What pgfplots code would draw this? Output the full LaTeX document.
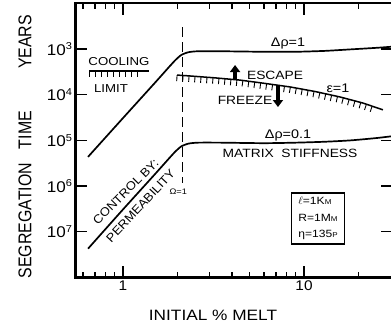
\documentclass[border=0pt]{standalone}
\usepackage{fontspec}
\setmainfont{Liberation Sans}[FakeStretch=1.15]
\newfontfamily\vfont{Liberation Sans}[FakeStretch=0.86]
\newfontfamily\rfont{Liberation Sans}[FakeStretch=1.08]
\newfontfamily\tfont{Liberation Sans}[FakeStretch=1.1]
\usepackage{pgfplots}
\pgfplotsset{compat=1.18}
\usetikzlibrary{arrows.meta,decorations.pathreplacing}
\newcommand\tp[1]{10\raisebox{5.5pt}{\fontsize{10}{10}\selectfont #1}}
\newcommand\fs[1]{\fontsize{#1}{#1}\selectfont}
\begin{document}
\begin{tikzpicture}
\begin{axis}[
  at={(75.5pt,55.5pt)}, anchor=south west,
  scale only axis, width=317.5pt, height=274.2pt,
  xmode=log, ymode=log, y dir=reverse,
  xmin=0.5464, xmax=31.02, ymin=1e2, ymax=1e8,
  axis line style={line width=2.2pt},
  xtick={1,10}, xticklabels={1,10},
  minor xtick={0.6,0.7,0.8,0.9,2,3,4,5,6,7,8,9,20},
  ytick={1e3,1e4,1e5,1e6,1e7},
  yticklabels={\tp{3},\tp{4},\tp{5},\tp{6},\tp{7}},
  yminorticks=false,
  tick align=inside,
  major tick length=12pt, minor tick length=6pt,
  every tick/.style={black, line width=1.3pt},
  x tick label style={font=\tfont\fs{14}},
  y tick label style={font=\tfont\fs{15.5}},
  clip=false,
]
% Delta rho = 1
\addplot[line width=1.7pt, smooth, tension=0.4] coordinates {
(0.641,2.29e5) (1.0,3.24e4) (1.5,5.50e3) (1.8,2.45e3) (1.95,1.74e3) (2.1,1.35e3)
(2.3,1.175e3) (2.6,1.12e3) (3.5,1.12e3) (6,1.15e3) (9,1.15e3) (13,1.10e3)
(18,1.02e3) (25,944) (30.6,891)};
% Delta rho = 0.1
\addplot[line width=1.7pt, smooth, tension=0.4] coordinates {
(0.641,2.34e7) (1.0,3.24e6) (1.5,5.50e5) (1.8,2.45e5) (1.95,1.74e5) (2.1,1.35e5)
(2.3,1.175e5) (2.6,1.12e5) (3.5,1.12e5) (6,1.15e5) (9,1.12e5) (13,1.07e5)
(18,1.0e5) (25,8.9e4) (30.6,8.1e4)};
% epsilon = 1 (freeze/escape)
\addplot[line width=1.5pt, postaction={decorate, line width=0.9pt},
  decoration={border, segment length=6pt, amplitude=6pt, angle=-90}] coordinates {
(1.99,3.72e3) (2.34,3.89e3) (3.2,4.27e3) (4.43,4.79e3) (6,5.62e3) (8.37,6.76e3)
(11.5,8.51e3) (15.8,1.12e4) (21,1.51e4) (27.3,2.14e4)};
% cooling limit
\addplot[line width=1.5pt, postaction={decorate, line width=0.9pt},
  decoration={border, segment length=6pt, amplitude=6pt, angle=-90}] coordinates {
(0.65,3020) (1.39,3020)};
% Omega = 1 dashed
\addplot[line width=1.2pt, dash pattern=on 10pt off 5pt] coordinates {(2.14,331) (2.14,8.5e5)};
% arrows
\addplot[line width=4.5pt, -{Triangle[width=10pt,length=7pt]}] coordinates {(4.16,4786) (4.16,2239)};
\addplot[line width=4.5pt, -{Triangle[width=10pt,length=7pt]}] coordinates {(7.18,6166) (7.18,18620)};
% texts
\node[font=\fs{11.5}] at (axis cs:0.950,1923) {COOLING};
\node[font=\fs{11.5}] at (axis cs:0.858,7499) {LIMIT};
\node[font=\fs{12.5}] at (axis cs:8.16,740) {Δρ=1};
\node[font=\fs{12}] at (axis cs:6.92,3707) {ESCAPE};
\node[font=\fs{12}] at (axis cs:4.72,1.306e4) {FREEZE};
\node[font=\fs{12.5}] at (axis cs:15.4,7129) {ε=1};
\node[font=\fs{12.5}] at (axis cs:8.16,7.62e4) {Δρ=0.1};
\node[font=\fs{12}] at (axis cs:8.37,1.888e5) {MATRIX\ \ STIFFNESS};
\node[font=\fs{8}] at (axis cs:2.02,1.35e6) {Ω=1};
\node[font=\rfont\fs{12}, rotate=45, anchor=base] at (axis cs:1.0745,1.538e6) {CONTROL BY:};
\node[font=\rfont\fs{12}, rotate=47, anchor=north, inner sep=1pt] at (axis cs:1.189,2.24e6) {PERMEABILITY};
\node[draw, line width=1.6pt, minimum width=53pt, minimum height=51pt, align=left,
  font=\fontsize{10.5}{16.5}\selectfont] at (axis cs:11.95,5.12e6)
  {$\ell$=1K{\fs{7}M}\\R=1M{\fs{7}M}\\η=135{\fs{7}P}};
\end{axis}
\node[rotate=90, font=\vfont\fs{18.5}] at (25pt,291pt) {YEARS};
\node[rotate=90, font=\vfont\fs{18.5}] at (25pt,203pt) {TIME};
\node[rotate=90, font=\vfont\fs{18.5}] at (25pt,112.5pt) {SEGREGATION};
\node[font=\fs{15}] at (213pt,18pt) {INITIAL \% MELT};
\pgfresetboundingbox
\path[use as bounding box] (0pt,0pt) rectangle (391pt,333pt);
\end{tikzpicture}
\end{document}
